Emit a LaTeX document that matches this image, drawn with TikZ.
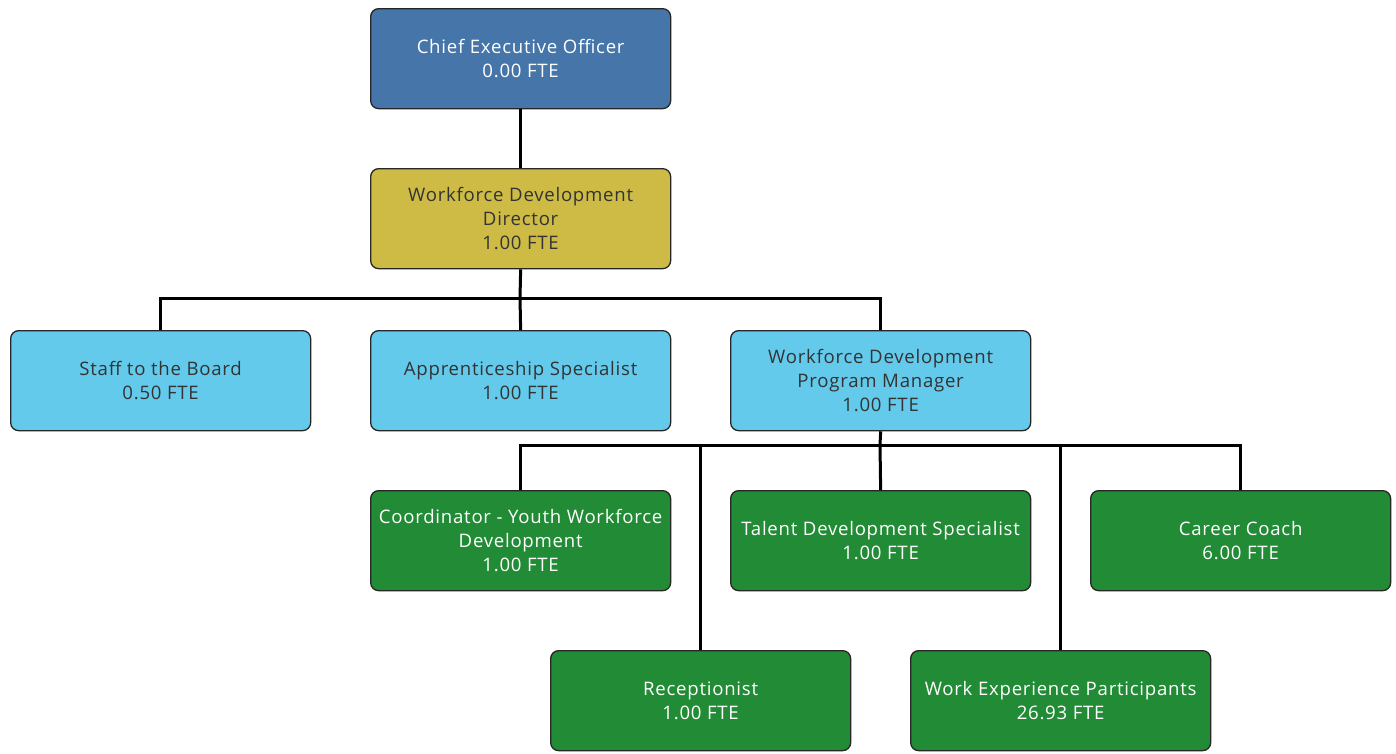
\documentclass[tikz,border=0pt]{standalone}
\usepackage{fontspec}
\setmainfont{Open Sans}[LetterSpace=4]
\begin{document}
\begin{tikzpicture}[x=1pt,y=-1pt,
  box/.style={draw=black!85, line width=1.3pt, rounded corners=8pt, minimum width=300pt, minimum height=100pt, inner sep=0pt, align=center, font=\fontsize{18.6}{24}\selectfont, anchor=north west},
  ceo/.style={box, fill=ceoblue, text=white},
  dir/.style={box, fill=diryellow, text=black!80},
  lb/.style={box, fill=lightblue, text=black!80},
  gr/.style={box, fill=darkgreen, text=white},
  conn/.style={line width=3pt, black}]
\definecolor{ceoblue}{HTML}{4575A9}
\definecolor{diryellow}{HTML}{CDBB45}
\definecolor{lightblue}{HTML}{63CAEC}
\definecolor{darkgreen}{HTML}{228B35}
\useasboundingbox (0,0) rectangle (1396,753);
\node[ceo] (ceo) at (370,8) {Chief Executive Officer\\0.00 FTE};
\node[dir] (wdd) at (370,168) {Workforce Development\\Director\\1.00 FTE};
\node[lb] (stb) at (10,330) {Staff to the Board\\0.50 FTE};
\node[lb] (aps) at (370,330) {Apprenticeship Specialist\\1.00 FTE};
\node[lb] (pm) at (730,330) {Workforce Development\\Program Manager\\1.00 FTE};
\node[gr] (coo) at (370,490) {Coordinator - Youth Workforce\\Development\\1.00 FTE};
\node[gr] (tds) at (730,490) {Talent Development Specialist\\1.00 FTE};
\node[gr] (cc) at (1090,490) {Career Coach\\6.00 FTE};
\node[gr] (rec) at (550,650) {Receptionist\\1.00 FTE};
\node[gr] (wep) at (910,650) {Work Experience Participants\\26.93 FTE};
\coordinate (b1) at (520,298);
\coordinate (b2) at (880,445);
\draw[conn] (ceo.south) -- (wdd.north);
\draw[conn] (wdd.south) -- (b1);
\draw[conn] (b1) -| (stb.north);
\draw[conn] (b1) -- (aps.north);
\draw[conn] (b1) -| (pm.north);
\draw[conn] (pm.south) -- (b2);
\draw[conn] (b2) -| (coo.north);
\draw[conn] (b2) -- (tds.north);
\draw[conn] (b2) -| (cc.north);
\draw[conn] (b2 -| rec.north) -- (rec.north);
\draw[conn] (b2 -| wep.north) -- (wep.north);
\end{tikzpicture}
\end{document}
